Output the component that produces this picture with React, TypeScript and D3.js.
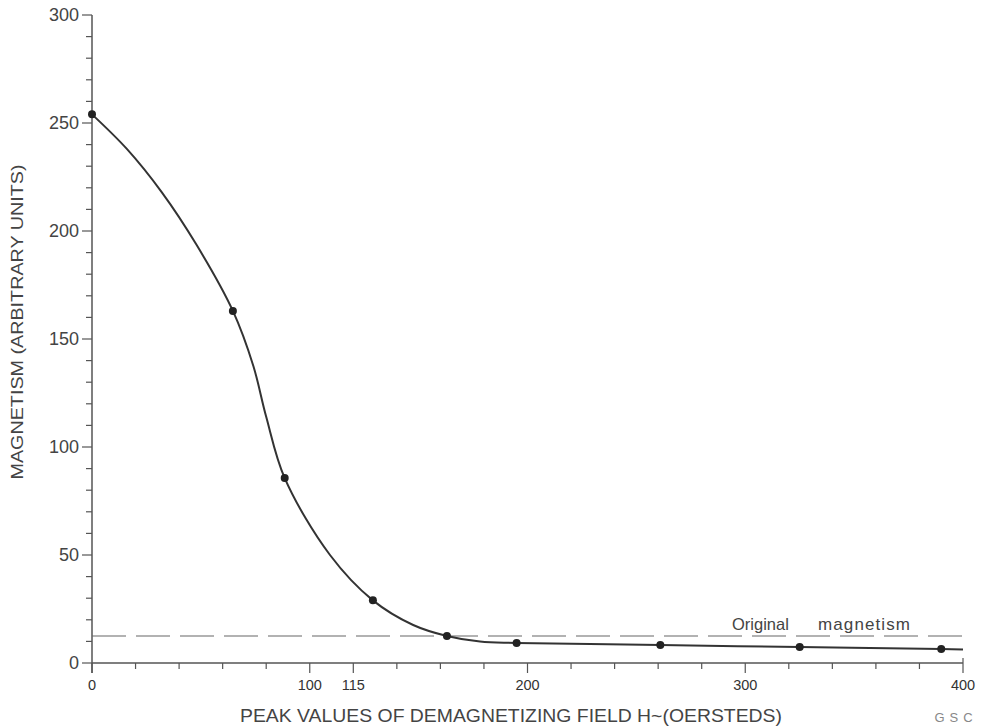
import React from "react";
import * as d3 from "d3";

// measured points (markers)
const fieldValues = [0, 64.7, 88.5, 129, 163, 195, 261, 325, 390];
const magnetismValues = [254, 163, 85.6, 29, 12.5, 9.3, 8.3, 7.4, 6.5];
// hand-drawn curve
const traceField = [0, 16, 32, 48, 64.7, 74.1, 80, 88.5, 109.3, 129, 147.5, 163, 178.2, 195, 261, 325, 390, 400];
const traceMagnetism = [254, 238, 218, 193.6, 163, 137.5, 114, 85.6, 50, 29, 17.6, 12.5, 9.9, 9.3, 8.3, 7.4, 6.5, 6.2];
const originalMagnetism = 12.5;
const yTickValues = [0, 50, 100, 150, 200, 250, 300];
const xTickPositions = [0, 100, 120, 200, 300, 400];
const xTickLabels = ["0", "100", "115", "200", "300", "400"];

const W = 989;
const H = 728;
const FONT = "'Liberation Sans', Arial, Helvetica, sans-serif";

export default function App() {
  const x = d3.scaleLinear().domain([0, 400]).range([92, 963]);
  const y = d3.scaleLinear().domain([0, 300]).range([663, 15]);

  const curvePts: [number, number][] = traceField.map((f, i) => [f, traceMagnetism[i]]);
  const line = d3
    .line<[number, number]>()
    .x((d) => x(d[0]))
    .y((d) => y(d[1]))
    .curve(d3.curveCatmullRom.alpha(0.5));

  const yMinor = d3.range(0, 301, 10);
  const xMinor = d3.range(0, 401, 20);
  const axisColor = "#555";

  return (
    <svg
      width={W}
      height={H}
      style={{ position: "absolute", left: 0, top: 0, background: "#fff" }}
      fontFamily={FONT}
    >
      {/* y axis */}
      <line x1={x(0)} x2={x(0)} y1={y(0) + 10} y2={y(300)} stroke={axisColor} strokeWidth={1.5} />
      {yMinor.map((v) => (
        <line
          key={"ym" + v}
          x1={x(0) - (v % 50 === 0 ? 10 : 6)}
          x2={x(0)}
          y1={y(v)}
          y2={y(v)}
          stroke={axisColor}
          strokeWidth={1.2}
        />
      ))}
      {yTickValues.map((v) => (
        <text
          key={"yl" + v}
          x={x(0) - 13}
          y={y(v)}
          dy="0.35em"
          textAnchor="end"
          fontSize={18}
          fill="#444"
        >
          {v}
        </text>
      ))}
      {/* x axis */}
      <line x1={x(0)} x2={x(400)} y1={y(0)} y2={y(0)} stroke={axisColor} strokeWidth={1.5} />
      {xMinor.map((v) => (
        <line
          key={"xm" + v}
          x1={x(v)}
          x2={x(v)}
          y1={y(0) - (v === 400 ? 5 : 0)}
          y2={y(0) + (xTickPositions.includes(v) ? 10 : 6)}
          stroke={axisColor}
          strokeWidth={1.2}
        />
      ))}
      {xTickPositions.map((v, i) => (
        <text
          key={"xl" + v}
          x={x(v)}
          y={y(0) + 27}
          textAnchor="middle"
          fontSize={14.5}
          fill="#333"
        >
          {xTickLabels[i]}
        </text>
      ))}
      {/* original magnetism dashed line */}
      <line
        x1={x(0)}
        x2={x(400)}
        y1={y(originalMagnetism)}
        y2={y(originalMagnetism)}
        stroke="#666"
        strokeWidth={1.2}
        strokeDasharray="34 10"
      />
      <text x={732} y={y(originalMagnetism) - 6} fontSize={16.5} fill="#444">
        Original
      </text>
      <text
        x={818}
        y={y(originalMagnetism) - 6}
        fontSize={17}
        fill="#444"
        textLength={92}
        lengthAdjust="spacing"
      >
        magnetism
      </text>
      {/* curve */}
      <path d={line(curvePts) || ""} fill="none" stroke="#333" strokeWidth={2} />
      {fieldValues.map((f, i) => (
        <circle key={"p" + i} cx={x(f)} cy={y(magnetismValues[i])} r={4} fill="#222" />
      ))}
      {/* axis titles */}
      <text
        transform={`translate(23, ${322}) rotate(-90)`}
        textAnchor="middle"
        fontSize={17}
        fill="#444"
        textLength={315}
        lengthAdjust="spacingAndGlyphs"
      >
        MAGNETISM (ARBITRARY UNITS)
      </text>
      <text
        x={511}
        y={722}
        textAnchor="middle"
        fontSize={18}
        fill="#444"
        textLength={542}
        lengthAdjust="spacingAndGlyphs"
      >
        PEAK VALUES OF DEMAGNETIZING FIELD H~(OERSTEDS)
      </text>
      <text x={956} y={722} textAnchor="middle" fontSize={13} fill="#888" letterSpacing={5}>
        GSC
      </text>
    </svg>
  );
}
